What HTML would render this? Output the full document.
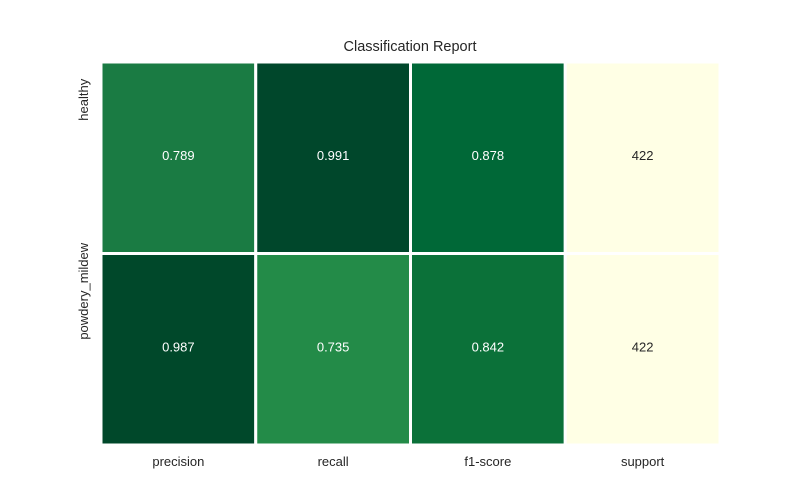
<!DOCTYPE html>
<html><head><meta charset="utf-8"><style>
body{margin:0;background:#fff;font-family:"Liberation Sans",sans-serif}
svg{display:block}
</style></head><body>
<svg id="chart" width="800" height="500" xmlns="http://www.w3.org/2000/svg">
<text x="410" y="51" text-anchor="middle" font-size="14.5" fill="#262626">Classification Report</text>
<g id="cells"></g>
<g id="xlabels"></g>
<g id="ylabels"></g>
</svg>
<script>
const rows = ["healthy", "powdery_mildew"];
const cols = ["precision", "recall", "f1-score", "support"];
const values = [[0.789, 0.991, 0.878, 422], [0.987, 0.735, 0.842, 422]];
const labels = [["0.789", "0.991", "0.878", "422"], ["0.987", "0.735", "0.842", "422"]];
const colors = [["#1a7b43", "#00472b", "#006837", "#ffffe5"], ["#00482a", "#238b48", "#0b7139", "#ffffe5"]];

const x0 = 101, x1 = 720, y0 = 62, y1 = 445;
const cw = (x1 - x0) / cols.length, ch = (y1 - y0) / rows.length;
const xPos = i => x0 + i * cw;
const yPos = j => y0 + j * ch;
const NS = "http://www.w3.org/2000/svg";
const gC = document.getElementById("cells");
rows.forEach((r, j) => {
  cols.forEach((c, i) => {
    const rect = document.createElementNS(NS, "rect");
    rect.setAttribute("x", xPos(i));
    rect.setAttribute("y", yPos(j));
    rect.setAttribute("width", cw);
    rect.setAttribute("height", ch);
    rect.setAttribute("fill", colors[j][i]);
    rect.setAttribute("stroke", "#fff");
    rect.setAttribute("stroke-width", "3");
    
    
    gC.appendChild(rect);
    const t = document.createElementNS(NS, "text");
    t.setAttribute("x", xPos(i) + cw / 2);
    t.setAttribute("y", yPos(j) + ch / 2 + 2);
    t.setAttribute("text-anchor", "middle");
    t.setAttribute("font-size", "13");
    t.setAttribute("fill", values[j][i] > 1 ? "#262626" : "#ffffff");
    t.textContent = labels[j][i];
    
    
    gC.appendChild(t);
  });
});
const gX = document.getElementById("xlabels");
cols.forEach((c, i) => {
  const t = document.createElementNS(NS, "text");
  t.setAttribute("x", xPos(i) + cw / 2);
  t.setAttribute("y", 466);
  t.setAttribute("text-anchor", "middle");
  t.setAttribute("font-size", "13");
  t.setAttribute("fill", "#262626");
  t.textContent = c;
  
  
  gX.appendChild(t);
});
const gY = document.getElementById("ylabels");
rows.forEach((r, j) => {
  const t = document.createElementNS(NS, "text");
  const cx = 88, cy = yPos(j) + ch / 2 - 58;
  t.setAttribute("x", cx);
  t.setAttribute("y", cy);
  t.setAttribute("text-anchor", "middle");
  t.setAttribute("font-size", "13");
  t.setAttribute("fill", "#262626");
  t.setAttribute("transform", "rotate(-90 " + cx + " " + cy + ")");
  t.textContent = r;
  
  
  gY.appendChild(t);
});
</script>
</body></html>
